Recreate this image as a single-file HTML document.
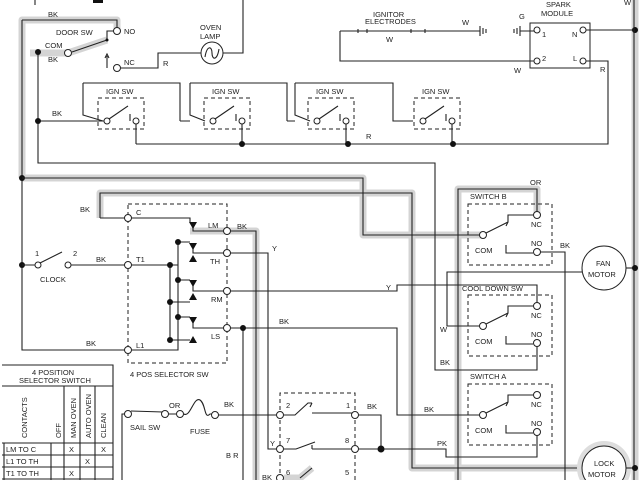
<!DOCTYPE html>
<html><head><meta charset="utf-8"><style>
html,body{margin:0;padding:0;background:#fff}
svg{display:block}
text{font-family:"Liberation Sans",sans-serif;font-size:7.5px;fill:#222}
.g{fill:none;stroke:#d4d4d4;stroke-width:7;stroke-linejoin:round}
.l{fill:none;stroke:#222;stroke-width:1.1}
.d{fill:none;stroke:#222;stroke-width:1;stroke-dasharray:4,3}
.c{fill:#fff;stroke:#222;stroke-width:1}
.dot{fill:#111}
</style></head><body>
<svg width="640" height="480" viewBox="0 0 640 480" xmlns="http://www.w3.org/2000/svg">
<!-- gray highlights -->
<path class="g" d="M22,178 V20 H117 V30 M107,40 L68,53 L30,53"/>
<path class="g" d="M22,178 H363 V235 H483"/>
<path class="g" d="M100,218 V193 H412 V468 H600"/>
<path class="g" d="M190,231 H256 V480"/>
<path class="g" d="M537,215 V189 H458 V480"/>
<path class="g" d="M635,0 V480"/>
<path class="g" d="M284,478 H300 L312,468"/>
<circle cx="604" cy="468" r="27" fill="#ddd"/>

<!-- top-left -->
<rect x="93" y="0" width="10" height="3" fill="#111"/>
<path class="l" d="M35,0 V5 M22,20 H117 V31 M117,31 H107 V40 L72,52 M22,20 V350 H128"/>
<path class="l" d="M38,52 V163 H435 V370 H537 V344"/>
<path class="l" d="M38,121 H107 M243,0 V53 H223 M201,53 H158 V68 H121 M107,68 V56"/>
<path class="l" d="M105,58 L107,54 L109,58"/>
<circle class="dot" cx="38" cy="52" r="3"/><circle class="dot" cx="38" cy="121" r="3"/><circle class="dot" cx="22" cy="178" r="3"/>
<circle class="c" cx="68" cy="53" r="3.5"/><circle class="c" cx="117" cy="31" r="3.5"/><circle class="c" cx="117" cy="68" r="3.5"/>
<circle class="dot" cx="107" cy="40" r="1.5"/>
<circle class="c" cx="212" cy="53" r="11"/><path class="l" d="M205,57 C207,45 212,46 212,53 C212,60 217,61 219,49"/>
<text x="48" y="17">BK</text><text x="56" y="35">DOOR SW</text><text x="124" y="34">NO</text>
<text x="45" y="48">COM</text><text x="48" y="62">BK</text><text x="124" y="65">NC</text><text x="163" y="66">R</text>
<text x="200" y="30">OVEN</text><text x="200" y="39">LAMP</text><text x="52" y="116">BK</text>

<!-- IGN switches -->
<path class="l" d="M83,83 H180 V121 M83,83 V115 L103,121 M180,121 H190 M190,83 H287 V121 M190,83 V115 L205,121 M287,121 H295 M295,83 H393 V121 H413"/>
<path class="l" d="M295,83 V115 L310,121"/>
<g id="ign">
<rect class="d" x="98" y="98" width="46" height="31"/>
<circle class="c" cx="107" cy="121" r="3"/><circle class="c" cx="136" cy="121" r="3"/>
<path class="l" d="M109,119 L128,106 M130,121 V114 M136,124 V144"/>
<text x="106" y="94">IGN SW</text>
</g>
<use href="#ign" x="106"/><use href="#ign" x="210"/><use href="#ign" x="316"/>
<path class="l" d="M136,144 H608 V61 H586"/>
<circle class="dot" cx="242" cy="144" r="3"/><circle class="dot" cx="348" cy="144" r="3"/><circle class="dot" cx="453" cy="144" r="3"/>
<text x="366" y="139">R</text><text x="600" y="72">R</text>

<!-- ignitor / spark module -->
<path class="l" d="M340,31 H480 M340,31 V61 H534"/>
<path class="l" d="M358,29 V33 M367,29 V33 M411,29 V33 M425,29 V33 M480,26 V36 M483,28 V34 M486,29 V33"/>
<path class="l" d="M520,26 V36 M517,28 V34 M514,29 V33 M520,31 H534"/>
<rect x="530" y="23" width="60" height="45" fill="none" stroke="#222"/>
<circle class="c" cx="537" cy="30" r="3"/><circle class="c" cx="583" cy="30" r="3"/><circle class="c" cx="537" cy="61" r="3"/><circle class="c" cx="583" cy="61" r="3"/>
<path class="l" d="M586,30 H635"/><circle class="dot" cx="635" cy="30" r="3"/>
<text x="373" y="17">IGNITOR</text><text x="365" y="24">ELECTRODES</text><text x="386" y="42">W</text><text x="462" y="25">W</text>
<text x="519" y="19">G</text><text x="546" y="7">SPARK</text><text x="541" y="16">MODULE</text>
<text x="542" y="37">1</text><text x="572" y="37">N</text><text x="542" y="61">2</text><text x="573" y="61">L</text>
<text x="514" y="73">W</text><text x="624" y="5">W</text>

<!-- right rail -->
<path class="l" d="M634,0 V480"/>

<!-- clock & selector -->
<path class="l" d="M100,218 V193 H412 V468 H577"/>
<path class="l" d="M22,178 H363 V235 H480"/>
<circle class="dot" cx="22" cy="265" r="3"/>
<path class="l" d="M22,265 H35 M40,263 L62,252 M71,265 H125"/>
<circle class="c" cx="38" cy="265" r="3"/><circle class="c" cx="68" cy="265" r="3"/>
<text x="35" y="256">1</text><text x="73" y="256">2</text><text x="40" y="282">CLOCK</text><text x="96" y="262">BK</text>
<text x="80" y="212">BK</text><text x="86" y="346">BK</text>
<rect class="d" x="128" y="204" width="99" height="159"/>
<path class="l" d="M100,218 H190 V222 M193,226 V231 H224 M131,265 H178 M131,350 H178 V242 H190 M170,265 V340 H190 M178,280 H190 M178,317 H190 M170,302 H190 M193,248 V253 H224 M193,286 V291 H224 M193,323 V328 H224"/>
<path class="dot" d="M189,222 H197 L193,229 Z M189,243 H197 L193,250 Z M189,280 H197 L193,287 Z M189,317 H197 L193,324 Z M189,262 H197 L193,255 Z M189,300 H197 L193,293 Z M189,343 H197 L193,336 Z"/>
<circle class="dot" cx="178" cy="242" r="3"/><circle class="dot" cx="178" cy="280" r="3"/><circle class="dot" cx="178" cy="317" r="3"/>
<circle class="dot" cx="170" cy="265" r="3"/><circle class="dot" cx="170" cy="302" r="3"/><circle class="dot" cx="170" cy="340" r="3"/>
<circle class="c" cx="128" cy="218" r="3.5"/><circle class="c" cx="128" cy="265" r="3.5"/><circle class="c" cx="128" cy="350" r="3.5"/>
<circle class="c" cx="227" cy="231" r="3.5"/><circle class="c" cx="227" cy="253" r="3.5"/><circle class="c" cx="227" cy="291" r="3.5"/><circle class="c" cx="227" cy="328" r="3.5"/>
<text x="136" y="215">C</text><text x="136" y="262">T1</text><text x="136" y="348">L1</text>
<text x="208" y="228">LM</text><text x="210" y="264">TH</text><text x="211" y="302">RM</text><text x="211" y="339">LS</text>
<text x="130" y="377">4 POS SELECTOR SW</text>
<path class="l" d="M230,231 H256 V480 M230,253 H268 V449 H277 M230,291 H397 V285 H537 V309 M230,328 H397 V415 H480 M243,328 V480"/>
<circle class="dot" cx="243" cy="328" r="3"/>
<text x="237" y="229">BK</text><text x="272" y="251">Y</text><text x="386" y="290">Y</text><text x="279" y="324">BK</text>

<!-- switches -->
<path class="l" d="M537,212 V189 H458 V480"/>
<g id="sw">
<rect class="d" x="468" y="204" width="84" height="61"/>
<circle class="c" cx="537" cy="215" r="3.5"/><circle class="c" cx="483" cy="235" r="3.5"/><circle class="c" cx="537" cy="252" r="3.5"/>
<path class="l" d="M486,233 L508,222 V215 H533 M506,226 L508,222 M506,245 V253 H533"/>
<text x="475" y="253">COM</text><text x="531" y="227">NC</text><text x="531" y="246">NO</text>
</g>
<use href="#sw" y="91"/><use href="#sw" y="180"/>
<text x="470" y="199">SWITCH B</text><text x="462" y="291">COOL DOWN SW</text><text x="470" y="379">SWITCH A</text><text x="530" y="185">OR</text>
<path class="l" d="M540,252 H565 V480"/><text x="560" y="248">BK</text>
<path class="l" d="M582,272 H447 V326 H480"/><text x="440" y="332">W</text>
<circle class="c" cx="604" cy="268" r="22"/><text x="596" y="266">FAN</text><text x="588" y="277">MOTOR</text>
<path class="l" d="M626,268 H635"/><circle class="dot" cx="635" cy="268" r="3"/>
<text x="440" y="365">BK</text><text x="424" y="412">BK</text>
<path class="l" d="M537,435 V457 H446 V449 H355"/><text x="437" y="446">PK</text>
<circle class="c" cx="604" cy="468" r="22"/><text x="594" y="466">LOCK</text><text x="588" y="477">MOTOR</text>
<path class="l" d="M626,468 H635"/><circle class="dot" cx="635" cy="468" r="3"/>

<!-- relay -->
<path class="d" d="M280,480 V393 H355 V480"/>
<path class="l" d="M218,415 H276 M284,415 H295 L308,403 H312 M310,407 L312,403 M312,413 H352 M284,449 H296 L315,442 M312,445 V449 M312,449 H352 M355,415 H381 V449 M300,478 L312,468"/>
<circle class="c" cx="280" cy="415" r="3.5"/><circle class="c" cx="280" cy="449" r="3.5"/><circle class="c" cx="280" cy="478" r="3.5"/>
<circle class="c" cx="355" cy="415" r="3.5"/><circle class="c" cx="355" cy="449" r="3.5"/>
<circle class="dot" cx="381" cy="449" r="3.5"/>
<text x="286" y="408">2</text><text x="286" y="443">7</text><text x="286" y="475">6</text>
<text x="346" y="408">1</text><text x="345" y="443">8</text><text x="345" y="475">5</text>
<text x="367" y="409">BK</text><text x="270" y="446">Y</text><text x="262" y="480">BK</text>
<text x="224" y="407">BK</text><text x="226" y="458">B R</text>

<!-- sail sw / fuse -->
<path class="l" d="M125,414 H122 V480 M131,411 L163,412 M168,414 H176 M184,414 C190,418 194,396 200,400 C206,404 204,420 210,414 H212"/>
<circle class="c" cx="128" cy="414" r="3.5"/><circle class="c" cx="165" cy="414" r="3.5"/><circle class="c" cx="180" cy="414" r="3.5"/><circle class="c" cx="215" cy="415" r="3.5"/>
<text x="169" y="408">OR</text><text x="130" y="430">SAIL SW</text><text x="190" y="434">FUSE</text>

<!-- table -->
<path class="l" d="M2,365 H113 V480 M2,386 H113 M2,443 H113 M2,455 H113 M2,467 H113 M2,479 H113 M51,443 V480 M64,386 V480 M80,386 V480 M95,386 V480 M4,443 V480"/>
<text x="32" y="375">4 POSITION</text><text x="19" y="383">SELECTOR SWITCH</text>
<text transform="translate(27,438) rotate(-90)">CONTACTS</text>
<text transform="translate(61,438) rotate(-90)">OFF</text>
<text transform="translate(76,438) rotate(-90)">MAN OVEN</text>
<text transform="translate(91,438) rotate(-90)">AUTO OVEN</text>
<text transform="translate(106,438) rotate(-90)">CLEAN</text>
<text x="6" y="452">LM TO C</text><text x="6" y="464">L1 TO TH</text><text x="6" y="476">T1 TO TH</text><text x="6" y="486">L1 TO RM</text>
<text x="69" y="452">X</text><text x="101" y="452">X</text><text x="85" y="464">X</text><text x="69" y="476">X</text><text x="85" y="486">X</text>
</svg>
</body></html>
